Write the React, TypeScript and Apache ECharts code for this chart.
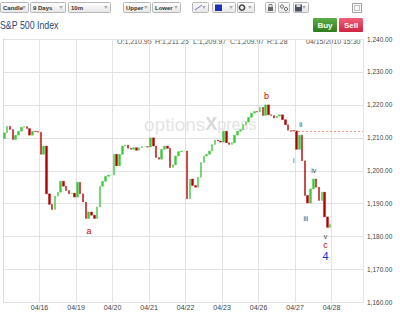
import React, { useEffect, useRef } from 'react';
import * as echarts from 'echarts';

// ---------------- data ----------------
const dayLabels = ['04/15', '04/16', '04/19', '04/20', '04/21', '04/22', '04/23', '04/26', '04/27', '04/28'];
const SLOTS_PER_DAY = 13; // 30-minute candles
const firstOpen = 1209.8;
const closes0415 = [1211.5, 1213.5, 1212.5, 1209.5, 1210.8, 1212.0, 1213.2, 1213.4, 1212.8, 1210.8, 1212.0, 1211.9, 1211.7];
const closes0416 = [1205.0, 1207.5, 1193.0, 1189.8, 1188.2, 1192.3, 1193.5, 1196.8, 1195.3, 1194.0, 1193.0, 1193.2, 1192.0];
const closes0419 = [1196.5, 1193.0, 1190.5, 1185.5, 1187.5, 1186.5, 1185.5, 1189.0, 1195.3, 1196.8, 1198.3, 1198.7, 1198.7];
const closes0420 = [1205.0, 1201.5, 1205.0, 1207.5, 1207.8, 1206.8, 1206.5, 1207.0, 1206.2, 1207.0, 1207.3, 1207.3, 1207.2];
const closes0421 = [1210.0, 1207.5, 1204.0, 1203.5, 1206.5, 1207.5, 1206.8, 1201.0, 1201.8, 1204.5, 1205.8, 1206.0, 1206.0];
const closes0422 = [1191.5, 1197.5, 1195.5, 1195.0, 1198.0, 1202.5, 1204.5, 1205.0, 1206.0, 1208.0, 1209.3, 1209.0, 1208.7];
const closes0423 = [1212.0, 1208.5, 1208.0, 1208.5, 1210.8, 1212.0, 1212.5, 1214.0, 1214.8, 1216.2, 1217.5, 1218.0, 1217.8];
const closes0426 = [1219.3, 1216.8, 1220.0, 1217.0, 1216.8, 1216.0, 1216.6, 1217.0, 1215.5, 1214.0, 1212.3, 1212.2, 1212.1];
const closes0427 = [1206.5, 1210.8, 1203.0, 1192.5, 1190.2, 1194.5, 1197.5, 1195.0, 1191.0, 1193.5, 1186.0, 1182.8, 1183.71];
const dailyCloses = [closes0415, closes0416, closes0419, closes0420, closes0421, closes0422, closes0423, closes0426, closes0427];

const lastPrice = 1183.71;
const refLevel = 1212.1;
const refLevelStartDay = 7.86;
const yMin = 1160;
const yMax = 1240;
const yInterval = 10;
const xMaxDays = 9.86;

// wave labels
const waveText = ['a', 'b', 'i', 'ii', 'iii', 'iv', 'v', 'c', '4'];
const waveDay = [2.358, 7.22, 7.967, 8.157, 8.293, 8.51, 8.835, 8.835, 8.835];
const wavePrice = [1181.6, 1222.7, 1203.2, 1214.1, 1185.6, 1200.2, 1180.1, 1177.5, 1174.0];
const waveKind = ['abc', 'abc', 'sub', 'sub', 'sub', 'sub', 'sub', 'abc', 'deg'];

const legendItems = ['O:1,210.95', 'H:1,211.25', 'L:1,209.97', 'C:1,209.97', 'R:1.28'];
const legendDate = '04/15/2010 15:30';

// ---------------- helpers ----------------
function buildCandles() {
  const out: number[][] = [];
  let prev = firstOpen;
  dailyCloses.forEach((day, d) => {
    day.forEach((c, k) => {
      const x = d + (k + 0.5) / SLOTS_PER_DAY;
      out.push([x, prev, c, Math.min(prev, c), Math.max(prev, c)]);
      prev = c;
    });
  });
  return out;
}

const fmtPrice = (v: number) =>
  v.toLocaleString('en-US', { minimumFractionDigits: 2, maximumFractionDigits: 2 });

const FONT = '"Liberation Sans", Arial, sans-serif';

function btnGrad() {
  return new echarts.graphic.LinearGradient(0, 0, 0, 1, [
    { offset: 0, color: '#ffffff' },
    { offset: 1, color: '#e6e6e6' },
  ]);
}

function dropdown(x: number, w: number, label: string) {
  const els: any[] = [
    {
      type: 'rect',
      shape: { x: x + 0.5, y: 2.5, width: w, height: 10, r: 1 },
      style: { fill: btnGrad(), stroke: '#b8b8b8', lineWidth: 1 },
    },
    {
      type: 'polygon',
      shape: { points: [[x + w - 6, 6], [x + w - 2, 6], [x + w - 4, 9]] },
      style: { fill: '#b0b0b0' },
    },
  ];
  if (label) {
    els.push({
      type: 'text',
      x: x + 3,
      y: 7.8,
      style: { text: label, fontSize: 6, fontWeight: 'bold', fill: '#333', verticalAlign: 'middle', fontFamily: FONT },
    });
  }
  return els;
}

function headerGraphics() {
  const g: any[] = [];
  g.push(...dropdown(0, 28, 'Candle'));
  g.push(...dropdown(30, 35, '9 Days'));
  g.push(...dropdown(68, 42, '10m'));
  g.push(...dropdown(123, 27, 'Upper'));
  g.push(...dropdown(152, 28, 'Lower'));
  g.push(...dropdown(192, 16, ''));
  g.push(...dropdown(212, 23, ''));
  g.push(...dropdown(237, 17, ''));
  g.push(...dropdown(293, 15, ''));
  // icons
  g.push({ type: 'line', shape: { x1: 195, y1: 10, x2: 202, y2: 5 }, style: { stroke: '#6b6be0', lineWidth: 1 } });
  g.push({ type: 'rect', shape: { x: 215, y: 4.5, width: 7, height: 6.5 }, style: { fill: '#1a33b5' } });
  g.push({ type: 'circle', shape: { cx: 242, cy: 7.6, r: 2.6 }, style: { fill: 'none', stroke: '#444', lineWidth: 1.6 } });
  g.push({ type: 'rect', shape: { x: 265.5, y: 2.5, width: 10, height: 10, r: 1 }, style: { fill: btnGrad(), stroke: '#b8b8b8', lineWidth: 1 } });
  g.push({ type: 'rect', shape: { x: 268, y: 7, width: 5, height: 4 }, style: { fill: '#666' } });
  g.push({ type: 'rect', shape: { x: 269, y: 4.5, width: 3, height: 3 }, style: { fill: 'none', stroke: '#666', lineWidth: 0.8 } });
  g.push({ type: 'rect', shape: { x: 278.5, y: 2.5, width: 11, height: 10, r: 1 }, style: { fill: btnGrad(), stroke: '#b8b8b8', lineWidth: 1 } });
  g.push({ type: 'circle', shape: { cx: 282, cy: 6.5, r: 1.6 }, style: { fill: 'none', stroke: '#555', lineWidth: 1 } });
  g.push({ type: 'circle', shape: { cx: 286, cy: 9, r: 1.6 }, style: { fill: 'none', stroke: '#555', lineWidth: 1 } });
  g.push({ type: 'rect', shape: { x: 295, y: 4.5, width: 7, height: 7 }, style: { fill: '#4a5160' } });
  g.push({ type: 'rect', shape: { x: 296.5, y: 4.5, width: 4, height: 2.5 }, style: { fill: '#d8dce4' } });
  g.push({ type: 'rect', shape: { x: 352.5, y: 3.5, width: 9, height: 9 }, style: { fill: '#fafafa', stroke: '#a0a0a0', lineWidth: 1 } });
  g.push({ type: 'rect', shape: { x: 354.5, y: 5.5, width: 5, height: 5 }, style: { fill: 'none', stroke: '#b0b0b0', lineWidth: 0.8 } });

  // title
  g.push({
    type: 'text',
    x: 0,
    y: 25,
    scaleX: 0.8,
    style: { text: 'S&P 500 Index', fontSize: 11, fill: '#24497a', verticalAlign: 'middle', fontFamily: FONT },
  });
  // buy / sell
  g.push({
    type: 'rect',
    shape: { x: 313, y: 18, width: 24, height: 14, r: 1 },
    style: {
      fill: new echarts.graphic.LinearGradient(0, 0, 0, 1, [
        { offset: 0, color: '#5fae48' },
        { offset: 1, color: '#2e7a1f' },
      ]),
    },
  });
  g.push({
    type: 'text', x: 325, y: 25.3,
    style: { text: 'Buy', fontSize: 8, fontWeight: 'bold', fill: '#f4fff0', align: 'center', verticalAlign: 'middle', fontFamily: FONT },
  });
  g.push({
    type: 'rect',
    shape: { x: 339, y: 18, width: 24, height: 14, r: 1 },
    style: {
      fill: new echarts.graphic.LinearGradient(0, 0, 0, 1, [
        { offset: 0, color: '#f06078' },
        { offset: 1, color: '#cf2442' },
      ]),
    },
  });
  g.push({
    type: 'text', x: 351, y: 25.3,
    style: { text: 'Sell', fontSize: 8, fontWeight: 'bold', fill: '#fff4f4', align: 'center', verticalAlign: 'middle', fontFamily: FONT },
  });
  // legend line
  const legendX = [117, 155, 193, 230, 267];
  legendItems.forEach((t, i) => {
    g.push({
      type: 'text', x: legendX[i], y: 41.5,
      style: { text: t, fontSize: 7, fill: '#555', verticalAlign: 'middle', fontFamily: FONT },
    });
  });
  g.push({
    type: 'text', x: 306, y: 41.5,
    style: { text: legendDate, fontSize: 7, fill: '#555', verticalAlign: 'middle', fontFamily: FONT },
  });
  // watermark
  g.push({
    type: 'text',
    x: 144,
    y: 124,
    z: -10,
    silent: true,
    style: {
      text: '{a|options}{b|X}{c|press}',
      verticalAlign: 'middle',
      fontFamily: FONT,
      rich: {
        a: { fontSize: 19, fill: '#e4e4e4', fontFamily: FONT },
        b: { fontSize: 18, fontWeight: 'bold', fill: '#d8d8d8', fontFamily: FONT },
        c: { fontSize: 16, fill: '#e4e4e4', fontFamily: FONT },
      },
    },
  });
  return g;
}

export default function App() {
  const ref = useRef<HTMLDivElement>(null);

  useEffect(() => {
    if (!ref.current) return;
    const chart = echarts.init(ref.current, null, { renderer: 'svg' });
    const candles = buildCandles();

    const kindStyle: Record<string, any> = {
      abc: { color: '#cc0000', fontSize: 9 },
      sub: { color: '#444444', fontSize: 7 },
      deg: { color: '#1a2fd0', fontSize: 11 },
    };

    const option: any = {
      animation: false,
      backgroundColor: '#ffffff',
      textStyle: { fontFamily: FONT },
      grid: { left: -1, right: 37, top: 39, bottom: 10.5, containLabel: false },
      xAxis: {
        type: 'value',
        min: 0,
        max: xMaxDays,
        interval: 1,
        axisLine: { show: false },
        axisTick: { show: false },
        splitLine: { show: true, lineStyle: { color: '#e3e3e3', width: 1 } },
        axisLabel: {
          fontSize: 7,
          color: '#444',
          margin: 1.5,
          showMaxLabel: false,
          formatter: (v: number) => (Number.isInteger(v) && v > 0 && v < dayLabels.length ? dayLabels[v] : ''),
        },
      },
      yAxis: {
        type: 'value',
        position: 'right',
        min: yMin,
        max: yMax,
        interval: yInterval,
        axisLine: { show: true, lineStyle: { color: '#dcdcdc' } },
        axisTick: { show: false },
        splitLine: { show: true, lineStyle: { color: '#e3e3e3', width: 1 } },
        axisLabel: { fontSize: 6.5, color: '#444', margin: 4, formatter: (v: number) => fmtPrice(v) },
      },
      graphic: headerGraphics(),
      series: [
        {
          type: 'candlestick',
          data: candles,
          barWidth: 2,
          itemStyle: {
            color: '#3ec83e',
            color0: '#b40000',
            borderColor: '#3ec83e',
            borderColor0: '#b40000',
            borderWidth: 0.4,
          },
          markLine: {
            silent: true,
            symbol: ['none', 'none'],
            data: [
              [
                { coord: [refLevelStartDay, refLevel] },
                { coord: [xMaxDays, refLevel] },
              ],
              {
                yAxis: lastPrice,
                lineStyle: { opacity: 0 },
                label: {
                  show: true,
                  position: 'end',
                  distance: 3,
                  formatter: () => fmtPrice(lastPrice),
                  fontSize: 7,
                  color: '#333',
                  backgroundColor: '#fff',
                  borderColor: '#6a6ab4',
                  borderWidth: 1,
                  padding: [1, 2, 1, 2],
                },
              },
            ],
            lineStyle: { color: '#e59a78', type: [2, 2], width: 1 },
            label: { show: false },
          },
        },
        {
          type: 'scatter',
          silent: true,
          z: 5,
          symbolSize: 1,
          itemStyle: { color: 'rgba(0,0,0,0)', opacity: 1 },
          data: waveText.map((t, i) => ({
            value: [waveDay[i], wavePrice[i]],
            label: {
              show: true,
              position: 'inside',
              formatter: t,
              fontFamily: FONT,
              opacity: 1,
              textBorderWidth: 0,
              ...kindStyle[waveKind[i]],
            },
          })),
        },
      ],
    };

    chart.setOption(option);
    return () => chart.dispose();
  }, []);

  return (
    <div
      ref={ref}
      style={{ position: 'fixed', left: 0, top: 0, width: 400, height: 313, background: '#fff' }}
    />
  );
}
